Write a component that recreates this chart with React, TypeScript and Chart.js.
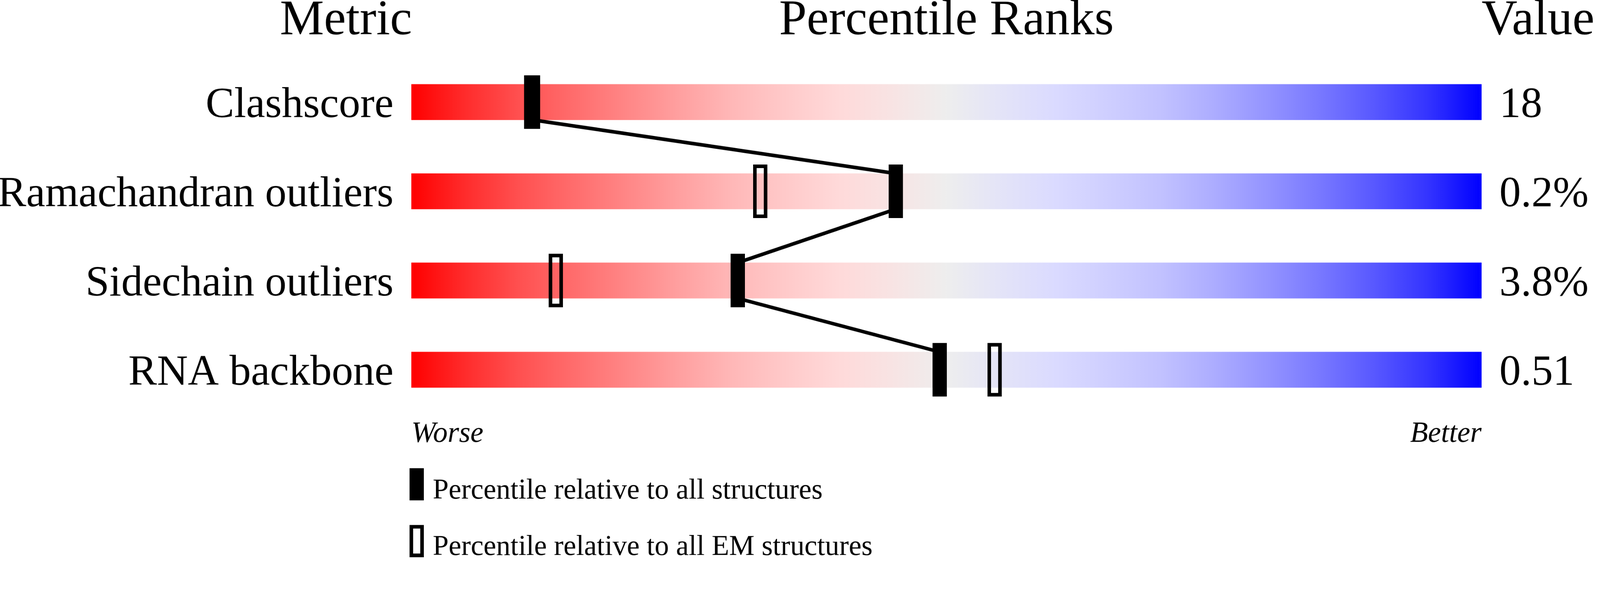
import React, { useEffect, useRef } from 'react';
import { Chart, registerables } from 'chart.js';

Chart.register(...registerables);

// ---- data ----
const METRICS = ['Clashscore', 'Ramachandran outliers', 'Sidechain outliers', 'RNA backbone'];
const VALUES = ['18', '0.2%', '3.8%', '0.51'];
const PCT_ALL = [11.35, 45.25, 30.5, 49.35];
const PCT_EM = [11.2, 32.6, 13.5, 54.5];
const HEADERS = ['Metric', 'Percentile Ranks', 'Value'];
const AXIS_ENDS = ['Worse', 'Better'];
const LEGEND_LABELS = ['Percentile relative to all structures', 'Percentile relative to all EM structures'];
const GRADIENT_STOPS = [0, 0.05, 0.1, 0.15, 0.2, 0.25, 0.3, 0.35, 0.4, 0.45, 0.5, 0.55, 0.6, 0.65, 0.7, 0.75, 0.8, 0.85, 0.9, 0.95, 1];
const GRADIENT_COLORS = [
  '#FF0000', '#FF2C2C', '#FF5050', '#FF6C6C', '#FF8686', '#FFA0A0', '#FFB8B8', '#FFCACA', '#FFDADA', '#F8E4E4',
  '#EEEEEE',
  '#E4E4F8', '#DBDBFF', '#CFCFFF', '#C2C2FF', '#ADADFF', '#9494FF', '#7878FF', '#5858FF', '#3434FF', '#0000FF',
];

// ---- layout / style (design pixels) ----
const W = 4485;
const H = 1561;
const SERIF = '"Liberation Serif", "Times New Roman", serif';
const ROW_PX = 250;
const BAR_PX = 100;
const HALF = BAR_PX / 2 / ROW_PX;
const ROWS = METRICS.map((_, i) => i + 1);

function markerImage(w: number, h: number, hollow: boolean, border: number) {
  const c = document.createElement('canvas');
  c.width = w;
  c.height = h;
  const g = c.getContext('2d')!;
  g.fillStyle = '#000';
  g.fillRect(0, 0, w, h);
  if (hollow) g.clearRect(border, border, w - 2 * border, h - 2 * border);
  return c;
}

const textPlugin = {
  id: 'percentileTexts',
  afterDraw(chart: any) {
    const { ctx, chartArea } = chart;
    const { left, right } = chartArea;
    ctx.save();
    ctx.fillStyle = '#000';
    ctx.textBaseline = 'alphabetic';
    // headers
    ctx.font = `139px ${SERIF}`;
    ctx.textAlign = 'right';
    ctx.fillText(HEADERS[0], left + 2, 96);
    ctx.textAlign = 'center';
    ctx.fillText(HEADERS[1], (left + right) / 2, 96);
    ctx.textAlign = 'left';
    ctx.fillText(HEADERS[2], right, 96);
    // worse / better
    ctx.font = `italic 82px ${SERIF}`;
    ctx.textAlign = 'left';
    ctx.fillText(AXIS_ENDS[0], left, 1238);
    ctx.textAlign = 'right';
    ctx.fillText(AXIS_ENDS[1], right, 1238);
    // legend
    const lx = left - 5;
    ctx.fillRect(lx, 1312, 40, 90);
    ctx.fillRect(lx, 1471, 40, 90);
    ctx.fillStyle = '#fff';
    ctx.fillRect(lx + 10, 1481, 20, 70);
    ctx.fillStyle = '#000';
    ctx.font = `80px ${SERIF}`;
    ctx.textAlign = 'left';
    ctx.fillText(LEGEND_LABELS[0], lx + 65, 1397);
    ctx.fillText(LEGEND_LABELS[1], lx + 65, 1555);
    ctx.restore();
  },
};

export default function App() {
  const ref = useRef<HTMLCanvasElement>(null);
  const S = typeof window !== 'undefined' && window.innerWidth > 0 ? window.innerWidth / W : 1;

  useEffect(() => {
    const canvas = ref.current!;
    const filledImg = markerImage(40, 150, false, 10);
    const openImg = markerImage(40, 150, true, 10);

    const connector: { x: number; y: number }[] = [];
    PCT_ALL.forEach((p, i) => {
      if (i > 0) connector.push({ x: p, y: ROWS[i] - HALF });
      if (i < PCT_ALL.length - 1) connector.push({ x: p, y: ROWS[i] + HALF });
    });

    const gradientFill = (c: any) => {
      const chart = c.chart;
      const xs = chart.scales?.x;
      if (!chart.chartArea || !xs) return '#EEEEEE';
      const g = chart.ctx.createLinearGradient(xs.getPixelForValue(0), 0, xs.getPixelForValue(100), 0);
      GRADIENT_STOPS.forEach((s, i) => g.addColorStop(s, GRADIENT_COLORS[i]));
      return g;
    };

    const yTicksBase = {
      font: { family: SERIF, size: 120 },
      color: '#000',
      padding: 50,
      labelOffset: 10,
      autoSkip: false,
    };

    const setTicks = (scale: any) => {
      scale.ticks = ROWS.map((v) => ({ value: v }));
    };

    const fitTo = (width: number) => (s: any) => {
      s.width = width;
      s.paddingTop = 0;
      s.paddingBottom = 0;
    };

    const chart = new Chart(canvas, {
      type: 'bar',
      data: {
        datasets: [
          {
            type: 'scatter',
            label: LEGEND_LABELS[0],
            data: ROWS.map((y, i) => ({ x: PCT_ALL[i], y })),
            pointStyle: filledImg,
            pointRadius: 5,
            order: 0,
          } as any,
          {
            type: 'scatter',
            label: LEGEND_LABELS[1],
            data: ROWS.map((y, i) => ({ x: PCT_EM[i], y })),
            pointStyle: openImg,
            pointRadius: 5,
            order: 1,
          } as any,
          {
            type: 'line',
            label: 'connector',
            data: connector,
            borderColor: '#000',
            borderWidth: 10,
            borderJoinStyle: 'bevel',
            pointRadius: 0,
            tension: 0,
            fill: false,
            order: 2,
          } as any,
          {
            type: 'bar',
            label: 'range',
            data: ROWS.map((y) => ({ x: 100, y })),
            backgroundColor: gradientFill,
            borderWidth: 0,
            barThickness: BAR_PX,
            order: 3,
          } as any,
        ],
      },
      options: {
        indexAxis: 'y',
        responsive: false,
        animation: false,
        devicePixelRatio: 1,
        events: [],
        layout: { padding: { top: 36, bottom: 425, left: 0, right: 0 } },
        plugins: {
          legend: { display: false },
          tooltip: { enabled: false },
          title: { display: false },
        },
        scales: {
          x: { type: 'linear', min: 0, max: 100, display: false },
          y: {
            type: 'linear',
            axis: 'y',
            position: 'left',
            min: 0,
            max: 4.4,
            reverse: true,
            offset: false,
            grid: { display: false, drawTicks: false },
            border: { display: false },
            afterBuildTicks: setTicks,
            afterFit: fitTo(1153),
            ticks: { ...yTicksBase, callback: (v: any) => METRICS[Number(v) - 1] },
          },
          yR: {
            type: 'linear',
            axis: 'y',
            position: 'right',
            min: 0,
            max: 4.4,
            reverse: true,
            offset: false,
            grid: { display: false, drawTicks: false },
            border: { display: false },
            afterBuildTicks: setTicks,
            afterFit: fitTo(W - 4153),
            ticks: { ...yTicksBase, callback: (v: any) => VALUES[Number(v) - 1] },
          },
        },
      } as any,
      plugins: [textPlugin],
    });

    return () => chart.destroy();
  }, []);

  return (
    <div
      style={{
        position: 'absolute',
        left: 0,
        top: 0,
        width: W * S,
        height: H * S,
        overflow: 'hidden',
        background: '#fff',
      }}
    >
      <canvas
        ref={ref}
        width={W}
        height={H}
        style={{
          width: W,
          height: H,
          display: 'block',
          transform: `scale(${S})`,
          transformOrigin: '0 0',
        }}
      />
    </div>
  );
}
